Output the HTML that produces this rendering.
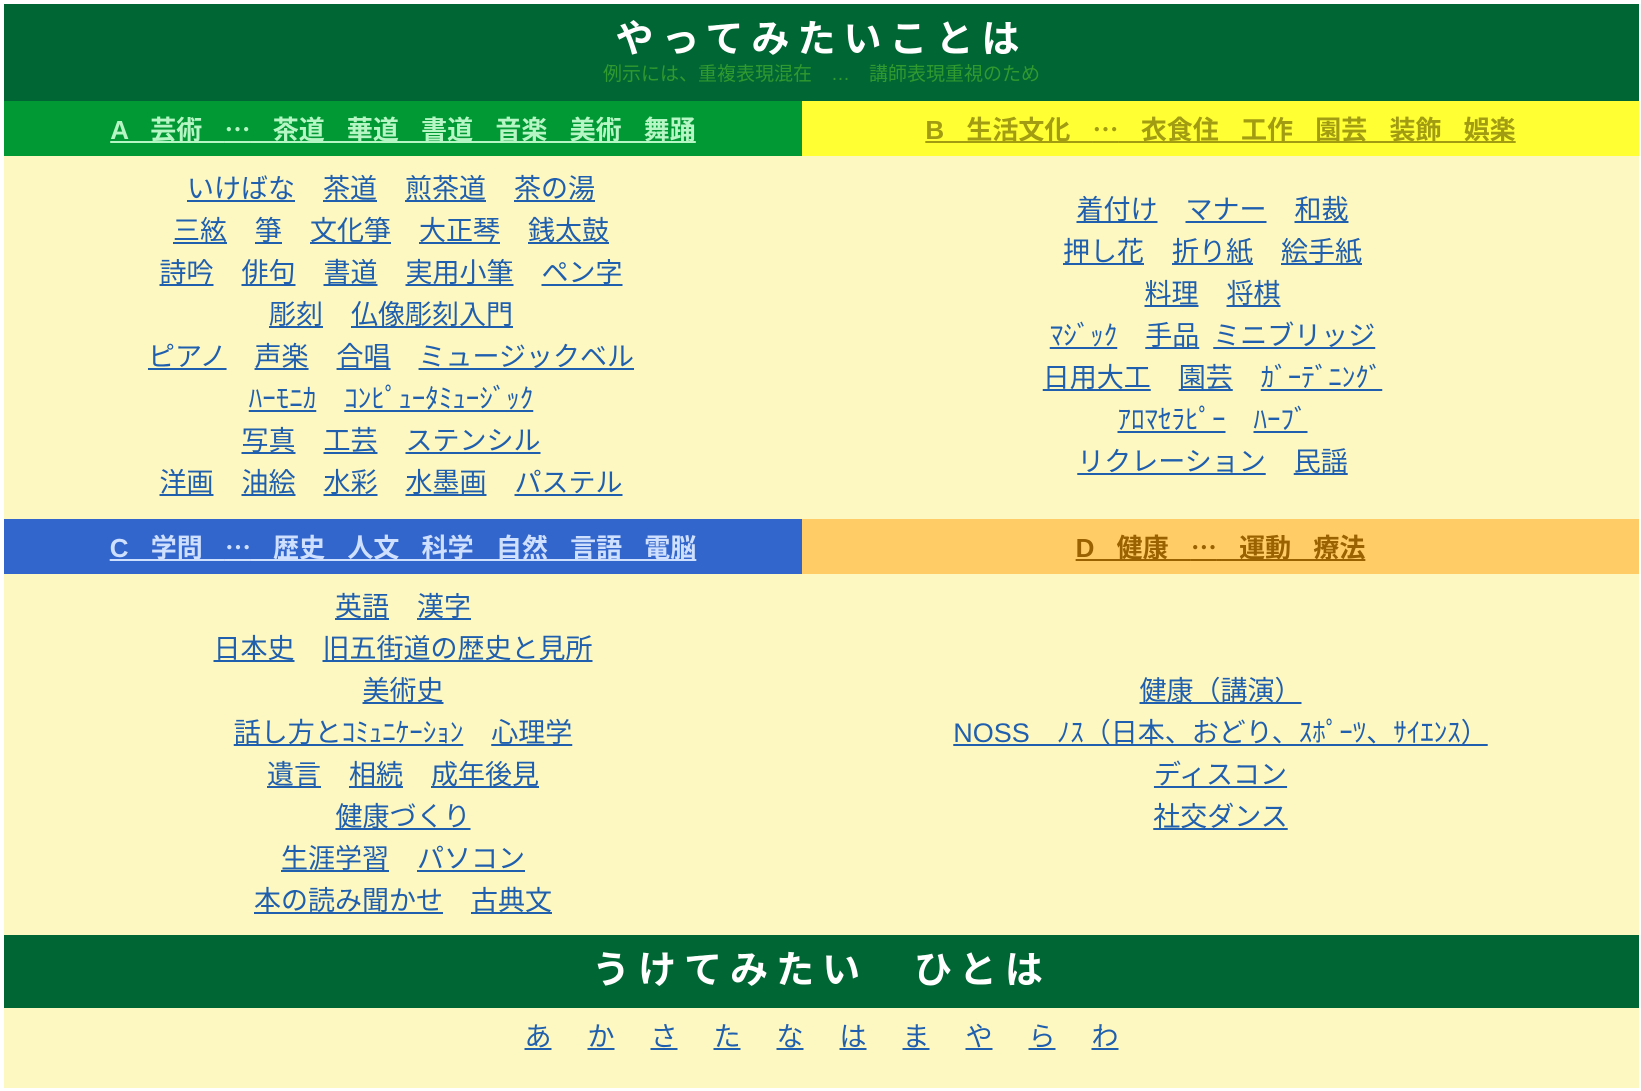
<!DOCTYPE html>
<html><head><meta charset="utf-8"><style>
body{margin:0;background:#fff;font-family:"Liberation Sans","Noto Sans CJK JP",sans-serif;}
#w{position:absolute;left:4px;top:4px;width:1635px;height:1084px;background:#fdf7c2;}
.hd{position:absolute;left:0;width:1635px;background:#006633;color:#fff;text-align:center;font-weight:bold;}
.sec{position:absolute;height:55px;line-height:55px;text-align:center;font-size:26px;font-weight:bold;}
.sec span{text-decoration:underline;word-spacing:15px;white-space:pre;}
.sec i{font-style:normal;font-family:"Noto Sans CJK JP",sans-serif;}
.c{position:absolute;text-align:center;font-size:27px;line-height:42px;}
.c a{color:#1f5fae;text-decoration:underline;margin:0 14px;}
</style></head><body>
<div id="w">
<div class="hd" style="top:0;height:97px;">
<div style="font-size:38px;letter-spacing:8px;padding-top:14px;line-height:44px;">やってみたいことは</div>
<div style="font-size:19px;color:#2f9a2f;font-weight:normal;line-height:26px;">例示には、重複表現混在　…　講師表現重視のため</div>
</div>
<div class="sec" style="left:0;top:97px;width:798px;background:#009933;color:#b6f5c4;"><span>A 芸術 <i>⋯</i> 茶道 華道 書道 音楽 美術 舞踊</span></div>
<div class="sec" style="left:798px;top:97px;width:837px;background:#ffff33;color:#a19c12;"><span>B 生活文化 <i>⋯</i> 衣食住 工作 園芸 装飾 娯楽</span></div>
<div class="c" style="left:-12px;top:164px;width:798px;">
<div><a>いけばな</a><a>茶道</a><a>煎茶道</a><a>茶の湯</a></div>
<div><a>三絃</a><a>箏</a><a>文化箏</a><a>大正琴</a><a>銭太鼓</a></div>
<div><a>詩吟</a><a>俳句</a><a>書道</a><a>実用小筆</a><a>ペン字</a></div>
<div><a>彫刻</a><a>仏像彫刻入門</a></div>
<div><a>ピアノ</a><a>声楽</a><a>合唱</a><a>ミュージックベル</a></div>
<div><a>ﾊｰﾓﾆｶ</a><a>ｺﾝﾋﾟｭｰﾀﾐｭｰｼﾞｯｸ</a></div>
<div><a>写真</a><a>工芸</a><a>ステンシル</a></div>
<div><a>洋画</a><a>油絵</a><a>水彩</a><a>水墨画</a><a>パステル</a></div>
</div>
<div class="c" style="left:790px;top:185px;width:837px;">
<div><a>着付け</a><a>マナー</a><a>和裁</a></div>
<div><a>押し花</a><a>折り紙</a><a>絵手紙</a></div>
<div><a>料理</a><a>将棋</a></div>
<div><a>ﾏｼﾞｯｸ</a><a>手品</a><a style="margin-left:0">ミニブリッジ</a></div>
<div><a>日用大工</a><a>園芸</a><a>ｶﾞｰﾃﾞﾆﾝｸﾞ</a></div>
<div><a>ｱﾛﾏｾﾗﾋﾟｰ</a><a>ﾊｰﾌﾞ</a></div>
<div><a>リクレーション</a><a>民謡</a></div>
</div>
<div class="sec" style="left:0;top:515px;width:798px;background:#3366cc;color:#cfe0ff;"><span>C 学問 <i>⋯</i> 歴史 人文 科学 自然 言語 電脳</span></div>
<div class="sec" style="left:798px;top:515px;width:837px;background:#ffcc66;color:#9a6200;"><span>D 健康 <i>⋯</i> 運動 療法</span></div>
<div class="c" style="left:0;top:582px;width:798px;">
<div><a>英語</a><a>漢字</a></div>
<div><a>日本史</a><a>旧五街道の歴史と見所</a></div>
<div><a>美術史</a></div>
<div><a>話し方とｺﾐｭﾆｹｰｼｮﾝ</a><a>心理学</a></div>
<div><a>遺言</a><a>相続</a><a>成年後見</a></div>
<div><a>健康づくり</a></div>
<div><a>生涯学習</a><a>パソコン</a></div>
<div><a>本の読み聞かせ</a><a>古典文</a></div>
</div>
<div class="c" style="left:798px;top:666px;width:837px;">
<div><a>健康（講演）</a></div>
<div><a>NOSS　ﾉｽ（日本、おどり、ｽﾎﾟｰﾂ、ｻｲｴﾝｽ）</a></div>
<div><a>ディスコン</a></div>
<div><a>社交ダンス</a></div>
</div>
<div class="hd" style="top:931px;height:73px;line-height:73px;font-size:38px;letter-spacing:8px;">うけてみたい　ひとは</div>
<div class="c" style="left:0;top:1012px;width:1635px;">
<div><a style="margin:0 18px">あ</a><a style="margin:0 18px">か</a><a style="margin:0 18px">さ</a><a style="margin:0 18px">た</a><a style="margin:0 18px">な</a><a style="margin:0 18px">は</a><a style="margin:0 18px">ま</a><a style="margin:0 18px">や</a><a style="margin:0 18px">ら</a><a style="margin:0 18px">わ</a></div>
</div>
</div>
</body></html>
